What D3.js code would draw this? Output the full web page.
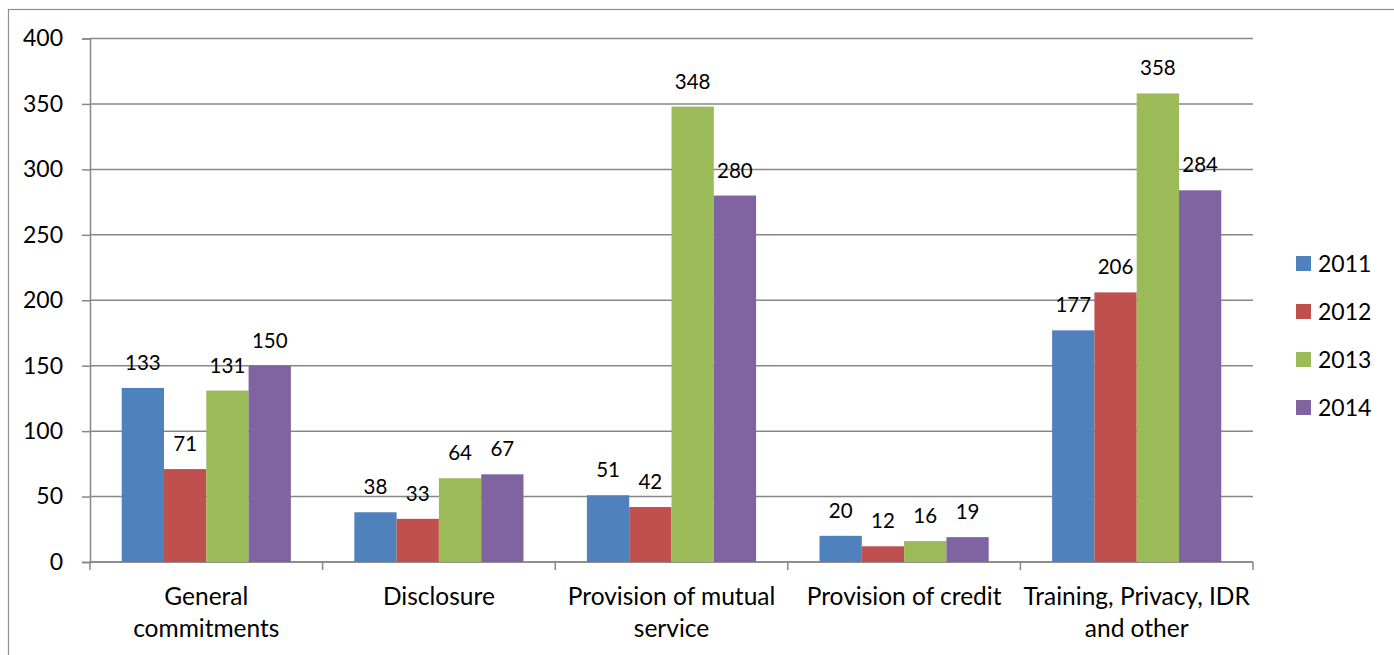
<!DOCTYPE html>
<html>
<head>
<meta charset="utf-8">
<script src="https://cdn.jsdelivr.net/npm/d3@7"></script>
<style>
  html, body { margin: 0; padding: 0; background: #fff; }
  svg { display: block; }
  text { font-family: Lato, "Open Sans", sans-serif; fill: #000; }
</style>
</head>
<body>
<svg id="chart" width="1394" height="655"></svg>
<script>
// Complaint categories (x axis), split on "\n" into two lines
const categories = [
  "General\ncommitments",
  "Disclosure",
  "Provision of mutual\nservice",
  "Provision of credit",
  "Training, Privacy, IDR\nand other"
];
const years = ["2011", "2012", "2013", "2014"];
const values2011 = [133, 38, 51, 20, 177];
const values2012 = [71, 33, 42, 12, 206];
const values2013 = [131, 64, 348, 16, 358];
const values2014 = [150, 67, 280, 19, 284];
const yTicks = [0, 50, 100, 150, 200, 250, 300, 350, 400];
const colors = ["#4F81BD", "#C0504D", "#9BBB59", "#8064A2"];

const seriesValues = [values2011, values2012, values2013, values2014];

const svg = d3.select("#chart");
const plot = { left: 90, right: 1253, top: 38.5, bottom: 562 };

// Outer chart frame (only top and left edges fall inside the view)
svg.append("rect")
  .attr("x", 8.5).attr("y", 9.5)
  .attr("width", 1500).attr("height", 800)
  .attr("fill", "none").attr("stroke", "#8e8e8e").attr("stroke-width", 1.2);

const y = d3.scaleLinear().domain([0, 400]).range([plot.bottom, plot.top]);
const x0 = d3.scaleBand().domain(categories).range([plot.left, plot.right]).padding(0);
const x1 = d3.scaleBand().domain(years).range([0, x0.bandwidth()])
  .paddingInner(0).paddingOuter(0.75);

// Horizontal gridlines
svg.append("g")
  .selectAll("line")
  .data(yTicks)
  .join("line")
  .attr("x1", plot.left).attr("x2", plot.right)
  .attr("y1", d => y(d)).attr("y2", d => y(d))
  .attr("stroke", "#878787").attr("stroke-width", 1.5);

// Y axis
const yAxis = svg.append("g")
  .attr("transform", `translate(${plot.left},0)`)
  .call(d3.axisLeft(y).tickValues(yTicks).tickSize(8).tickPadding(19));
yAxis.select(".domain").attr("stroke", "#878787").attr("stroke-width", 1.5);
yAxis.selectAll(".tick line").attr("stroke", "#878787").attr("stroke-width", 1.5);
yAxis.selectAll(".tick text")
  .style("font-family", "Lato, 'Open Sans', sans-serif")
  .style("font-size", "23px").attr("fill", "#000");

// X axis line with boundary ticks between categories
const xAxis = svg.append("g");
xAxis.append("line")
  .attr("x1", plot.left).attr("x2", plot.right)
  .attr("y1", y(0)).attr("y2", y(0))
  .attr("stroke", "#878787").attr("stroke-width", 1.5);
const boundaries = categories.map(c => x0(c)).concat([x0(categories[categories.length - 1]) + x0.bandwidth()]);
xAxis.selectAll("line.tick")
  .data(boundaries)
  .join("line")
  .attr("class", "tick")
  .attr("x1", d => d).attr("x2", d => d)
  .attr("y1", y(0)).attr("y2", y(0) + 8)
  .attr("stroke", "#878787").attr("stroke-width", 1.5);

// Category labels
const catLabels = svg.append("g").selectAll("text")
  .data(categories)
  .join("text")
  .attr("x", d => x0(d) + x0.bandwidth() / 2)
  .attr("y", 605)
  .attr("text-anchor", "middle")
  .style("font-size", "24.5px");
catLabels.each(function(d) {
  const t = d3.select(this);
  d.split("\n").forEach((line, i) => {
    t.append("tspan")
      .attr("x", x0(d) + x0.bandwidth() / 2)
      .attr("dy", i === 0 ? 0 : 32)
      .text(line);
  });
});

// Bars and value labels
const groups = svg.append("g").selectAll("g")
  .data(categories)
  .join("g")
  .attr("transform", d => `translate(${x0(d)},0)`);

groups.selectAll("rect")
  .data((d, ci) => years.map((yr, si) => ({ yr, si, v: seriesValues[si][ci] })))
  .join("rect")
  .attr("x", d => x1(d.yr))
  .attr("y", d => y(d.v))
  .attr("width", x1.bandwidth())
  .attr("height", d => y(0) - y(d.v))
  .attr("fill", d => colors[d.si]);

groups.selectAll("text")
  .data((d, ci) => years.map((yr, si) => ({ yr, si, v: seriesValues[si][ci] })))
  .join("text")
  .attr("x", d => x1(d.yr) + x1.bandwidth() / 2)
  .attr("y", d => y(d.v) - 18)
  .attr("text-anchor", "middle")
  .style("font-size", "20.5px")
  .text(d => d.v);

// Legend
const legend = svg.append("g").selectAll("g")
  .data(years)
  .join("g")
  .attr("transform", (d, i) => `translate(1296,${263.5 + i * 48})`);
legend.append("rect")
  .attr("x", 0).attr("y", -7.5)
  .attr("width", 15).attr("height", 15)
  .attr("fill", (d, i) => colors[i]);
legend.append("text")
  .attr("x", 22).attr("y", 0)
  .attr("dy", "0.36em")
  .style("font-size", "23px")
  .text(d => d);
</script>
</body>
</html>
